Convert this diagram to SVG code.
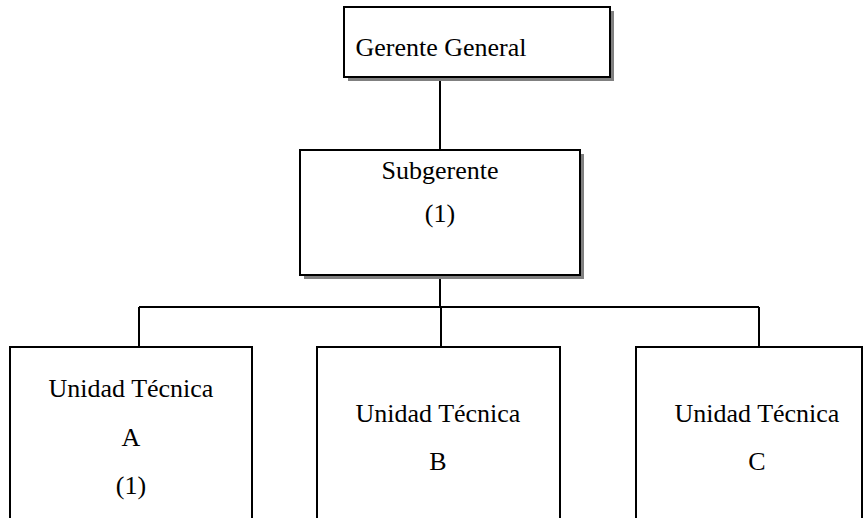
<svg xmlns="http://www.w3.org/2000/svg" width="867" height="518" viewBox="0 0 867 518">
  <style>
    .box { fill: #ffffff; stroke: #000000; stroke-width: 2; }
    .shadow { fill: #808080; }
    .link { fill: none; stroke: #000000; stroke-width: 2; }
    .label { font-family: "Liberation Serif", "Times New Roman", serif; font-size: 26px; fill: #000000; text-anchor: middle; }
  </style>
  <rect width="867" height="518" fill="#ffffff"/>

  <!-- connectors -->
  <g id="connectors">
    <line class="link" x1="440" y1="77" x2="440" y2="150"/>
    <line class="link" x1="440" y1="275" x2="440" y2="307"/>
    <line class="link" x1="139" y1="307" x2="759" y2="307"/>
    <line class="link" x1="139" y1="307" x2="139" y2="347"/>
    <line class="link" x1="441" y1="307" x2="441" y2="347"/>
    <line class="link" x1="759" y1="307" x2="759" y2="347"/>
  </g>

  <g id="gerente-general">
    <rect class="shadow" x="348" y="11" width="266" height="70"/>
    <rect class="box" x="344" y="7" width="266" height="70"/>
    <text class="label" x="441" y="56">Gerente General</text>
  </g>

  <g id="subgerente">
    <rect class="shadow" x="304" y="154" width="280" height="125"/>
    <rect class="box" x="300" y="150" width="280" height="125"/>
    <text class="label" x="440" y="179">Subgerente</text>
    <text class="label" x="440" y="222">(1)</text>
  </g>

  <g id="unidad-a">
    <rect class="box" x="10" y="347" width="242" height="190"/>
    <text class="label" x="131" y="397">Unidad Técnica</text>
    <text class="label" x="131" y="446">A</text>
    <text class="label" x="131" y="494">(1)</text>
  </g>

  <g id="unidad-b">
    <rect class="box" x="317" y="347" width="243" height="190"/>
    <text class="label" x="438" y="422">Unidad Técnica</text>
    <text class="label" x="438" y="470">B</text>
  </g>

  <g id="unidad-c">
    <rect class="box" x="636" y="347" width="226" height="190"/>
    <text class="label" x="757" y="422">Unidad Técnica</text>
    <text class="label" x="757" y="470">C</text>
  </g>
</svg>
